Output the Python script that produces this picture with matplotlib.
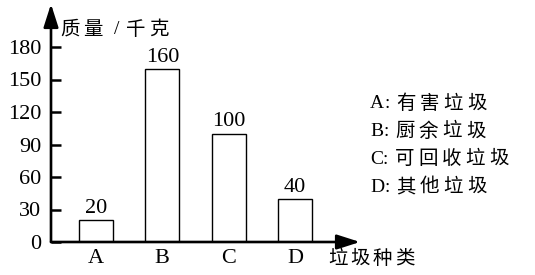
import matplotlib
matplotlib.use("Agg")
import matplotlib.pyplot as plt

categories = ["A", "B", "C", "D"]
values = [20, 160, 100, 40]
yticks = [0, 30, 60, 90, 120, 150, 180]
legend_lines = ["A: 有害垃圾", "B: 厨余垃圾", "C: 可回收垃圾", "D: 其他垃圾"]
ylabel = "质量 / 千克"
xlabel = "垃圾种类"

FAM = ["Liberation Serif", "Noto Sans CJK SC"]
plt.rcParams["font.family"] = FAM

W, H = 535, 275
fig = plt.figure(figsize=(W / 100, H / 100), dpi=100)
x0, x1 = 51, 360
y0, y1 = 242, 4
ax = fig.add_axes([x0 / W, (H - y0) / H, (x1 - x0) / W, (y0 - y1) / H])

px_per_unit = 32.5 / 30
ax.set_ylim(0, (y0 - y1) / px_per_unit)
step = 66.3
ax.set_xlim(-(96 - x0) / step, (x1 - 96) / step)

xs = list(range(len(categories)))
ax.bar(xs, values, width=34 / step, color="white", edgecolor="black", linewidth=1.0)
for x, v in zip(xs, values):
    ax.text(x, v + 2, str(v), ha="center", va="bottom", fontsize=16)

for s in ["top", "right", "left", "bottom"]:
    ax.spines[s].set_visible(False)

ax.set_yticks(yticks)
ax.set_yticklabels([str(t) for t in yticks], fontsize=16)
ax.tick_params(axis="y", direction="in", length=7, width=1.8, pad=7)
ax.set_xticks(xs)
ax.set_xticklabels(categories, fontsize=16)
ax.tick_params(axis="x", length=0, pad=5)

arrow = dict(arrowstyle="-|>,head_length=1.0,head_width=0.32", color="black", lw=1.9,
             mutation_scale=14, shrinkA=0, shrinkB=0)
ax.annotate("", xy=(1, 0), xytext=(0, 0), xycoords="axes fraction", textcoords="axes fraction",
            arrowprops=arrow, annotation_clip=False)
ax.annotate("", xy=(0, 1), xytext=(0, 0), xycoords="axes fraction", textcoords="axes fraction",
            arrowprops=arrow, annotation_clip=False)

renderer = fig.canvas.get_renderer()


def spaced_text(xpx, ypx, s, size, cjk_gap):
    """Draw string char by char with extra gap after CJK glyphs (pixel coords from top-left)."""
    x = xpx
    for ch in s:
        t = fig.text(x / W, 1 - ypx / H, ch, fontsize=size, ha="left", va="center")
        w = t.get_window_extent(renderer).width
        gap = cjk_gap if ord(ch) > 0x2E80 else 0
        if ch == " ":
            gap = 2
        x += w + gap


spaced_text(60, 30, ylabel, 14, 4)
spaced_text(328, 259, xlabel, 14, 3)

for i, line in enumerate(legend_lines):
    spaced_text(370, 104 + 27.7 * i, line, 14, 4)

fig.savefig("out.png", dpi=100)
